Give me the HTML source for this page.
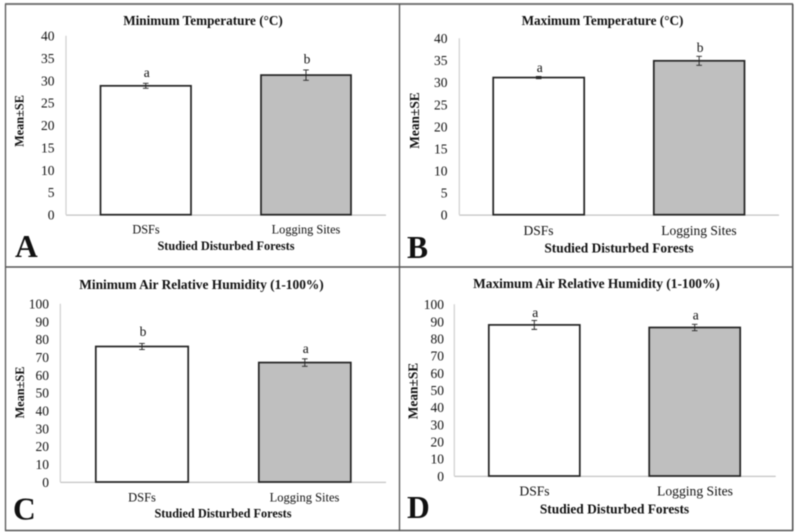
<!DOCTYPE html>
<html>
<head>
<meta charset="utf-8">
<style>
html,body{margin:0;padding:0;background:#fff;}
svg{display:block;filter:blur(0.45px);}
text{font-family:"Liberation Serif",serif;fill:#111;}
.b{font-weight:bold;}
</style>
</head>
<body>
<svg id="figure" width="800" height="532" viewBox="0 0 800 532" xmlns="http://www.w3.org/2000/svg">
<rect x="0" y="0" width="800" height="532" fill="#fff"/>
<g id="frame" stroke="#555" fill="none">
<path d="M5 4H793" stroke-width="2" stroke="#777"/>
<path d="M5.5 4V531" stroke-width="1.3"/>
<path d="M792.7 4V531" stroke-width="1.6"/>
<path d="M5 530.5H793" stroke-width="1.6"/>
<path d="M399.5 4V531" stroke-width="1.3"/>
<path d="M5 267H793" stroke-width="1.6"/>
</g>
<g id="charts"></g>
</svg>
<script>
const categories = ["DSFs", "Logging Sites"];
const panelLetters = ["A", "B", "C", "D"];
const panelTitles = ["Minimum Temperature (°C)", "Maximum Temperature (°C)", "Minimum Air Relative Humidity (1-100%)", "Maximum Air Relative Humidity (1-100%)"];
const axisMaximums = [40, 40, 100, 100];
const tickSteps = [5, 5, 10, 10];
const meansA = [28.8, 31.2];
const meansB = [31.1, 34.9];
const meansC = [76, 67];
const meansD = [88, 86.5];
const errorsA = [0.55, 1.16];
const errorsB = [0.25, 1.02];
const errorsC = [1.7, 2.1];
const errorsD = [2.6, 1.85];
const lettersA = ["a", "b"];
const lettersB = ["a", "b"];
const lettersC = ["b", "a"];
const lettersD = ["a", "a"];

const means = [meansA, meansB, meansC, meansD];
const errors = [errorsA, errorsB, errorsC, errorsD];
const sigLetters = [lettersA, lettersB, lettersC, lettersD];

/* layout only: plot box and label placement per panel */
const layouts = [
  {x0:66,    x1:386,   y0:214.7, yT:35.7,  b:[[100.5,191],[261,351]],     titleCx:203,   titleY:25,  tfs:13.2, labX:54.5, ylx:23.5, ylCy:121,   yfs:12.3, xcs:[146,306],     xtY:233.5, xtfs:12.3, xTitleCx:226,   xTitleY:250,   xfs:12.3, lx:15,  ly:257,   sg:[6.3,6.3]},
  {x0:459.3, x1:779,   y0:214.7, yT:38.3,  b:[[493.2,584.2],[653.8,744.5]],titleCx:602.5, titleY:25,  tfs:13.2, labX:447.5,ylx:419,  ylCy:120.5, yfs:13.4, xcs:[538.5,699], xtY:235,   xtfs:13.5, xTitleCx:619,   xTitleY:252.5, xfs:13.4, lx:407, ly:258,   sg:[4.5,4.4]},
  {x0:60.3,  x1:386,   y0:482,   yT:303.7, b:[[95.8,188.2],[258.8,350.8]],titleCx:201.5, titleY:289, tfs:13.4, labX:49,   ylx:24,   ylCy:392.5, yfs:12.3, xcs:[142,304.5],  xtY:501.5, xtfs:12.5, xTitleCx:223,   xTitleY:517.7, xfs:12.3, lx:13,  ly:519.5, sg:[7.6,5.6]},
  {x0:454.3, x1:775.7, y0:476,   yT:304.3, b:[[488.8,579.8],[649.2,740.2]],titleCx:596.5, titleY:288, tfs:13.4, labX:444,  ylx:417.5,ylCy:391,   yfs:13.4, xcs:[534.5,695],  xtY:495.5, xtfs:13.6, xTitleCx:614.5, xTitleY:513.7, xfs:13.4, lx:407, ly:518,   sg:[3.6,5]}
];

const NS = "http://www.w3.org/2000/svg";
const root = document.getElementById("charts");

function mk(tag, attrs, parent){
  const e = document.createElementNS(NS, tag);
  for (const k in attrs) e.setAttribute(k, attrs[k]);
  parent.appendChild(e);
  return e;
}
function yScale(p, v){
  const L = layouts[p];
  return L.y0 - (v / axisMaximums[p]) * (L.y0 - L.yT);
}

panelLetters.forEach(function(letter, p){
  const L = layouts[p];
  const g = mk("g", {}, root);
  
  

  const title = mk("text", {x:L.titleCx, y:L.titleY, "text-anchor":"middle", "font-size":L.tfs, "class":"b"}, g);
  
  
  title.textContent = panelTitles[p];

  const yAxis = mk("line", {x1:L.x0, x2:L.x0, y1:L.yT, y2:L.y0, stroke:"#cfcfcf", "stroke-width":1.2}, g);
  
  

  for (let v = 0; v <= axisMaximums[p]; v += tickSteps[p]) {
    const t = mk("text", {x:L.labX, y:yScale(p, v) + 4.8, "text-anchor":"end", "font-size":13.5}, g);
    
    
    t.textContent = v;
  }

  const yTitle = mk("text", {x:0, y:0, transform:"translate(" + L.ylx + " " + L.ylCy + ") rotate(-90)", "text-anchor":"middle", "font-size":L.yfs, "class":"b"}, g);
  
  
  yTitle.textContent = "Mean±SE";

  const xAxis = mk("line", {x1:L.x0, x2:L.x1, y1:L.y0 + 0.4, y2:L.y0 + 0.4, stroke:"#c4c4c4", "stroke-width":1.3}, g);
  
  

  categories.forEach(function(cat, i){
    const m = means[p][i], er = errors[p][i];
    const xs = L.b[i];
    const cx = (xs[0] + xs[1]) / 2;
    const top = yScale(p, m);

    const bar = mk("rect", {x:xs[0], y:top, width:xs[1]-xs[0], height:L.y0-top, fill:i === 0 ? "#ffffff" : "#bfbfbf", stroke:"#222", "stroke-width":1.7}, g);
    
    

    const hi = yScale(p, m + er), lo = yScale(p, m - er);
    const eb = mk("path", {d:"M"+(cx-2.8)+" "+hi+"H"+(cx+2.8)+"M"+cx+" "+hi+"V"+lo+"M"+(cx-2.8)+" "+lo+"H"+(cx+2.8), stroke:"#222", "stroke-width":0.9, fill:"none"}, g);
    
    

    const sig = mk("text", {x:cx + 1, y:hi - L.sg[i], "text-anchor":"middle", "font-size":13.5}, g);
    
    
    sig.textContent = sigLetters[p][i];

    const xt = mk("text", {x:L.xcs[i], y:L.xtY, "text-anchor":"middle", "font-size":L.xtfs}, g);
    
    
    xt.textContent = cat;
  });

  const xTitle = mk("text", {x:L.xTitleCx, y:L.xTitleY, "text-anchor":"middle", "font-size":L.xfs, "class":"b"}, g);
  
  
  xTitle.textContent = "Studied Disturbed Forests";

  const pl = mk("text", {x:L.lx, y:L.ly, "font-size":31.5, "class":"b"}, g);
  
  
  pl.textContent = letter;
});
</script>
</body>
</html>
